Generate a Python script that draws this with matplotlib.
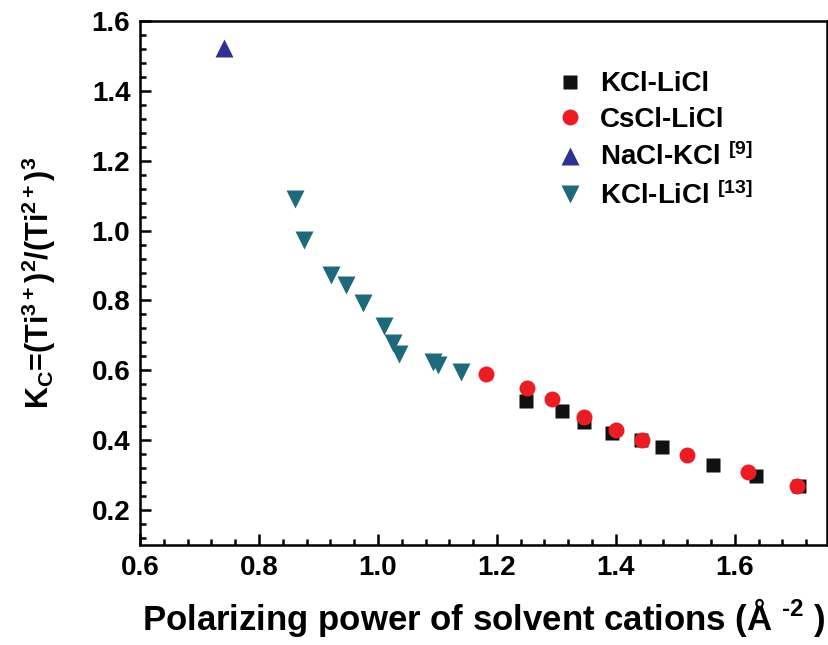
import matplotlib
matplotlib.use('Agg')
import matplotlib.pyplot as plt
from matplotlib.ticker import MultipleLocator

plt.rcParams['font.family'] = ['Liberation Sans', 'DejaVu Sans']
plt.rcParams['font.weight'] = 'bold'
plt.rcParams['mathtext.fontset'] = 'custom'
plt.rcParams['mathtext.rm'] = 'Liberation Sans'
plt.rcParams['mathtext.bf'] = 'Liberation Sans:bold'
plt.rcParams['mathtext.it'] = 'Liberation Sans:bold'

# KCl-LiCl (this work)
kcl_x = [1.249, 1.310, 1.346, 1.393, 1.442, 1.477, 1.564, 1.636, 1.708]
kcl_y = [0.513, 0.485, 0.451, 0.421, 0.402, 0.380, 0.328, 0.298, 0.270]
# CsCl-LiCl
cs_x = [1.182, 1.251, 1.292, 1.346, 1.401, 1.444, 1.520, 1.622, 1.705]
cs_y = [0.589, 0.549, 0.518, 0.467, 0.428, 0.400, 0.359, 0.308, 0.270]
# NaCl-KCl [9]
na_x = [0.742]
na_y = [1.522]
# KCl-LiCl [13]
ref_x = [0.861, 0.876, 0.921, 0.946, 0.975, 1.011, 1.026, 1.035, 1.092, 1.101, 1.140]
ref_y = [1.090, 0.974, 0.873, 0.844, 0.794, 0.726, 0.679, 0.646, 0.625, 0.615, 0.595]

fig = plt.figure(figsize=(8.29, 6.45), dpi=100)
ax = fig.add_axes([140 / 829, 100 / 645, 687 / 829, 524 / 645])

ax.plot(kcl_x, kcl_y, 's', color='#111111', ms=10.5, mec='none', label='KCl-LiCl')
ax.plot(cs_x, cs_y, 'o', color='#ec1c24', ms=11.5, mec='none', label='CsCl-LiCl')
ax.plot(na_x, na_y, '^', color='#2e3192', ms=13, mec='none',
        label=r'NaCl-KCl $^{\mathrm{[9]}}$')
ax.plot(ref_x, ref_y, 'v', color='#1f6a7a', ms=13, mec='none',
        label=r'KCl-LiCl $^{\mathrm{[13]}}$')

ax.set_xlim(0.6, 1.755)
ax.set_ylim(0.1, 1.6)
ax.xaxis.set_minor_locator(MultipleLocator(0.04))
ax.yaxis.set_minor_locator(MultipleLocator(0.04))
ax.set_xticks([0.6, 0.8, 1.0, 1.2, 1.4, 1.6])
ax.set_yticks([0.2, 0.4, 0.6, 0.8, 1.0, 1.2, 1.4, 1.6])
ax.set_xticklabels(['0.6', '0.8', '1.0', '1.2', '1.4', '1.6'])
ax.set_yticklabels(['0.2', '0.4', '0.6', '0.8', '1.0', '1.2', '1.4', '1.6'])

ax.tick_params(which='both', direction='in', top=False, right=False, width=1.8,
               labelsize=20, pad=7)
ax.tick_params(which='major', length=8)
ax.tick_params(which='minor', length=4.5)
for s in ax.spines.values():
    s.set_linewidth(1.8)

ax.set_xlabel(r'Polarizing power of solvent cations (Å $^{\text{-2}}$ )',
              fontsize=25, fontweight='bold', labelpad=11)
ax.set_ylabel(r'$\mathbf{K_C}$=(Ti$^{\mathbf{3+}}$)$^{\mathbf{2}}$/(Ti$^{\mathbf{2+}}$)$^{\mathbf{3}}$',
              fontsize=22, fontweight='bold', labelpad=24)

ax.legend(loc='upper left', bbox_to_anchor=(0.585, 0.925), frameon=False,
          prop={'size': 20, 'weight': 'bold'}, handletextpad=0.5,
          labelspacing=0.35, borderaxespad=0, handlelength=1.2)

fig.savefig('out.png', dpi=100)
